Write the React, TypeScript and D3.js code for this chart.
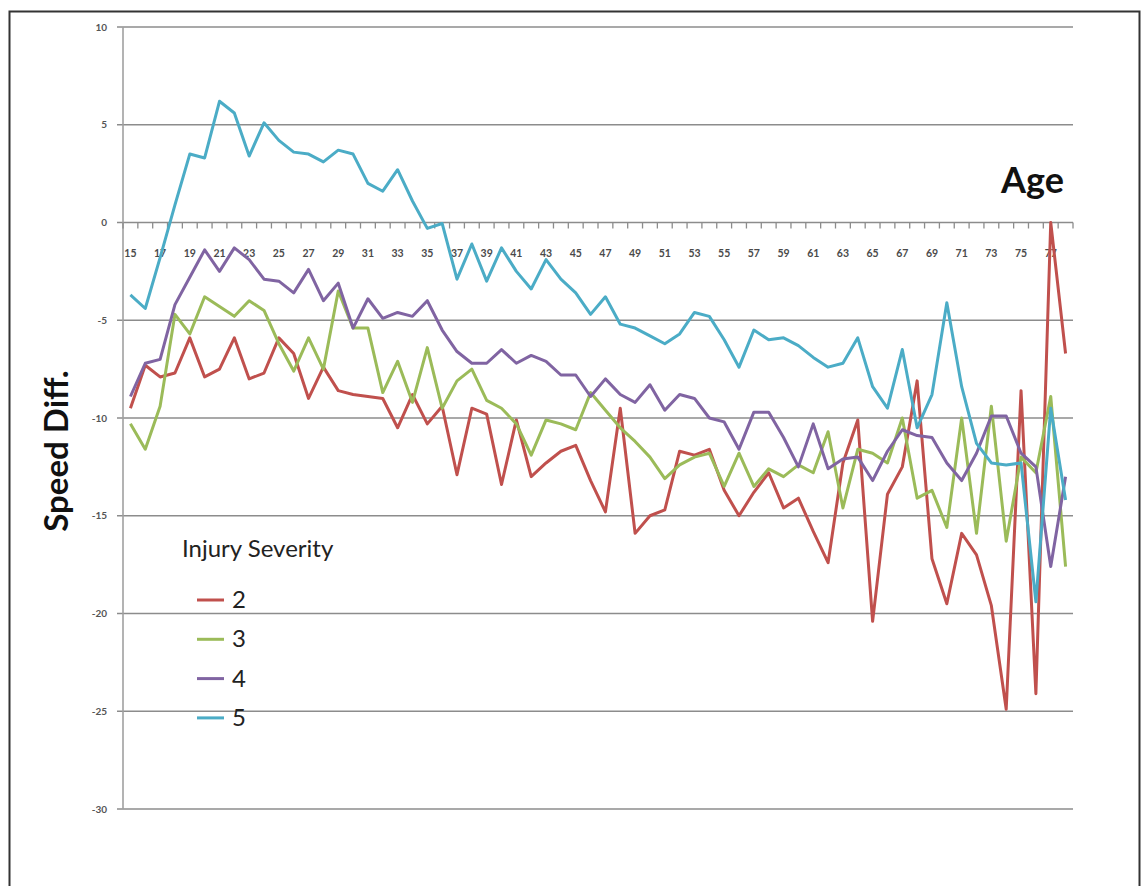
import React, { useEffect, useRef } from 'react';
import * as d3 from 'd3';

// ages 15..78, one category each
const ages = d3.range(15, 79);

const sev2 = [
  -9.5, -7.3, -7.9, -7.7, -5.9, -7.9, -7.5, -5.9, -8.0, -7.7, -5.9,
  -6.7, -9.0, -7.4, -8.6, -8.8, -8.9, -9.0, -10.5, -8.8, -10.3, -9.4,
  -12.9, -9.5, -9.8, -13.4, -10.1, -13.0, -12.3, -11.7, -11.4, -13.2, -14.8,
  -9.5, -15.9, -15.0, -14.7, -11.7, -11.9, -11.6, -13.7, -15.0, -13.8, -12.8,
  -14.6, -14.1, -15.8, -17.4, -12.3, -10.1, -20.4, -13.9, -12.5, -8.1,
  -17.2, -19.5, -15.9, -17.0, -19.6, -24.9, -8.6, -24.1, 0, -6.7,
];
const sev3 = [
  -10.3, -11.6, -9.4, -4.7, -5.7, -3.8, -4.3, -4.8, -4.0, -4.5, -6.2,
  -7.6, -5.9, -7.5, -3.5, -5.4, -5.4, -8.7, -7.1, -9.2, -6.4, -9.5,
  -8.1, -7.5, -9.1, -9.5, -10.3, -11.9, -10.1, -10.3, -10.6, -8.7, -9.6,
  -10.5, -11.2, -12.0, -13.1, -12.4, -12.0, -11.8, -13.5, -11.8, -13.5, -12.6,
  -13.0, -12.4, -12.8, -10.7, -14.6, -11.6, -11.8, -12.3, -10.0, -14.1,
  -13.7, -15.6, -10.0, -15.9, -9.4, -16.3, -12.0, -12.8, -8.9, -17.6,
];
const sev4 = [
  -8.9, -7.2, -7.0, -4.2, -2.8, -1.4, -2.5, -1.3, -1.9, -2.9, -3.0,
  -3.6, -2.4, -4.0, -3.1, -5.4, -3.9, -4.9, -4.6, -4.8, -4.0, -5.5,
  -6.6, -7.2, -7.2, -6.5, -7.2, -6.8, -7.1, -7.8, -7.8, -8.9, -8.0,
  -8.8, -9.2, -8.3, -9.6, -8.8, -9.0, -10.0, -10.2, -11.6, -9.7, -9.7,
  -11.0, -12.5, -10.3, -12.6, -12.1, -12.0, -13.2, -11.7, -10.6, -10.9,
  -11.0, -12.3, -13.2, -11.8, -9.9, -9.9, -11.8, -12.5, -17.6, -13.0,
];
const sev5 = [
  -3.7, -4.4, -1.8, 0.9, 3.5, 3.3, 6.2, 5.6, 3.4, 5.1, 4.2,
  3.6, 3.5, 3.1, 3.7, 3.5, 2.0, 1.6, 2.7, 1.1, -0.3, -0.05,
  -2.9, -1.1, -3.0, -1.3, -2.5, -3.4, -1.9, -2.9, -3.6, -4.7, -3.8,
  -5.2, -5.4, -5.8, -6.2, -5.7, -4.6, -4.8, -6.0, -7.4, -5.5, -6.0,
  -5.9, -6.3, -6.9, -7.4, -7.2, -5.9, -8.4, -9.5, -6.5, -10.5,
  -8.8, -4.1, -8.4, -11.3, -12.3, -12.4, -12.3, -19.4, -9.5, -14.2,
];

const seriesNames = ['2', '3', '4', '5'];
const seriesValues = [sev2, sev3, sev4, sev5];
const seriesColors = ['#c0504d', '#9bbb59', '#8064a2', '#4bacc6'];
const yTicks = [10, 5, 0, -5, -10, -15, -20, -25, -30];

const W = 1143;
const H = 886;

const SpeedChart: React.FC = () => {
  const svgRef = useRef<SVGSVGElement>(null);

  useEffect(() => {
    if (!svgRef.current) return;
    const svg = d3.select(svgRef.current);
    svg.selectAll('*').remove();

    const left = 123;
    const right = 1073;
    const top = 27;
    const bottom = 809;

    const x = d3.scaleBand<number>().domain(ages).range([left, right]).padding(0);
    const y = d3.scaleLinear().domain([-30, 10]).range([bottom, top]);
    const cx = (a: number) => (x(a) as number) + x.bandwidth() / 2;

    // outer frame
    svg.append('rect')
      .attr('x', 9.5).attr('y', 11.5)
      .attr('width', 1130).attr('height', 890)
      .attr('fill', 'white')
      .attr('stroke', '#333').attr('stroke-width', 2);

    // gridlines
    svg.append('g')
      .selectAll('line')
      .data(yTicks)
      .enter()
      .append('line')
      .attr('x1', left - 6)
      .attr('x2', right)
      .attr('y1', d => y(d))
      .attr('y2', d => y(d))
      .attr('stroke', '#8c8c8c')
      .attr('stroke-width', 1.6);

    // y axis line
    svg.append('line')
      .attr('x1', left).attr('x2', left)
      .attr('y1', top).attr('y2', bottom)
      .attr('stroke', '#a0a0a0').attr('stroke-width', 1.6);

    svg.append('g')
      .selectAll('text')
      .data(yTicks)
      .enter()
      .append('text')
      .attr('x', 107)
      .attr('y', d => y(d) + 3.5)
      .attr('text-anchor', 'end')
      .attr('font-family', 'Lato, sans-serif')
      .attr('font-size', 10)
      .attr('font-weight', 'bold')
      .attr('fill', '#555')
      .text(d => d);

    // category axis along zero, ticks on band edges
    const y0 = y(0);
    const edges = ages.map(a => x(a) as number).concat([right]);
    svg.append('g')
      .selectAll('line')
      .data(edges)
      .enter()
      .append('line')
      .attr('x1', d => d).attr('x2', d => d)
      .attr('y1', y0).attr('y2', y0 + 6)
      .attr('stroke', '#8c8c8c').attr('stroke-width', 1.3);

    svg.append('g')
      .selectAll('text')
      .data(ages.filter((a, i) => i % 2 === 0))
      .enter()
      .append('text')
      .attr('x', d => cx(d))
      .attr('y', y0 + 34)
      .attr('text-anchor', 'middle')
      .attr('font-family', 'Lato, sans-serif')
      .attr('font-size', 10.5)
      .attr('font-weight', 'bold')
      .attr('fill', '#4a4a4a')
      .text(d => d);

    // series lines
    const line = d3.line<number>()
      .x((d, i) => cx(ages[i]))
      .y(d => y(d));

    seriesValues.forEach((vals, k) => {
      svg.append('path')
        .datum(vals)
        .attr('fill', 'none')
        .attr('stroke', seriesColors[k])
        .attr('stroke-width', 3)
        .attr('stroke-linejoin', 'round')
        .attr('d', line as any);
    });

    // axis titles
    svg.append('text')
      .attr('x', 1064).attr('y', 193)
      .attr('text-anchor', 'end')
      .attr('font-family', 'Lato, sans-serif')
      .attr('font-weight', 'bold')
      .attr('font-size', 36)
      .attr('fill', '#111')
      .text('Age');

    svg.append('text')
      .attr('transform', 'translate(68,451) rotate(-90)')
      .attr('text-anchor', 'middle')
      .attr('font-family', 'Lato, sans-serif')
      .attr('font-weight', 'bold')
      .attr('font-size', 33)
      .attr('fill', '#111')
      .text('Speed Diff.');

    // legend
    svg.append('text')
      .attr('x', 182).attr('y', 557)
      .attr('font-family', 'Lato, sans-serif')
      .attr('font-size', 24)
      .attr('fill', '#222')
      .text('Injury Severity');

    const lg = svg.append('g')
      .selectAll('g')
      .data(seriesNames)
      .enter()
      .append('g')
      .attr('transform', (d, i) => `translate(0,${600 + i * 39.3})`);

    lg.append('line')
      .attr('x1', 197).attr('x2', 224)
      .attr('y1', 0).attr('y2', 0)
      .attr('stroke', (d, i) => seriesColors[i])
      .attr('stroke-width', 3);

    lg.append('text')
      .attr('x', 232).attr('y', 8)
      .attr('font-family', 'Lato, sans-serif')
      .attr('font-size', 24)
      .attr('fill', '#222')
      .text(d => d);
  }, []);

  return <svg ref={svgRef} width={W} height={H} style={{ position: 'absolute', left: 0, top: 0 }}></svg>;
};

export default function App() {
  return <SpeedChart />;
}
